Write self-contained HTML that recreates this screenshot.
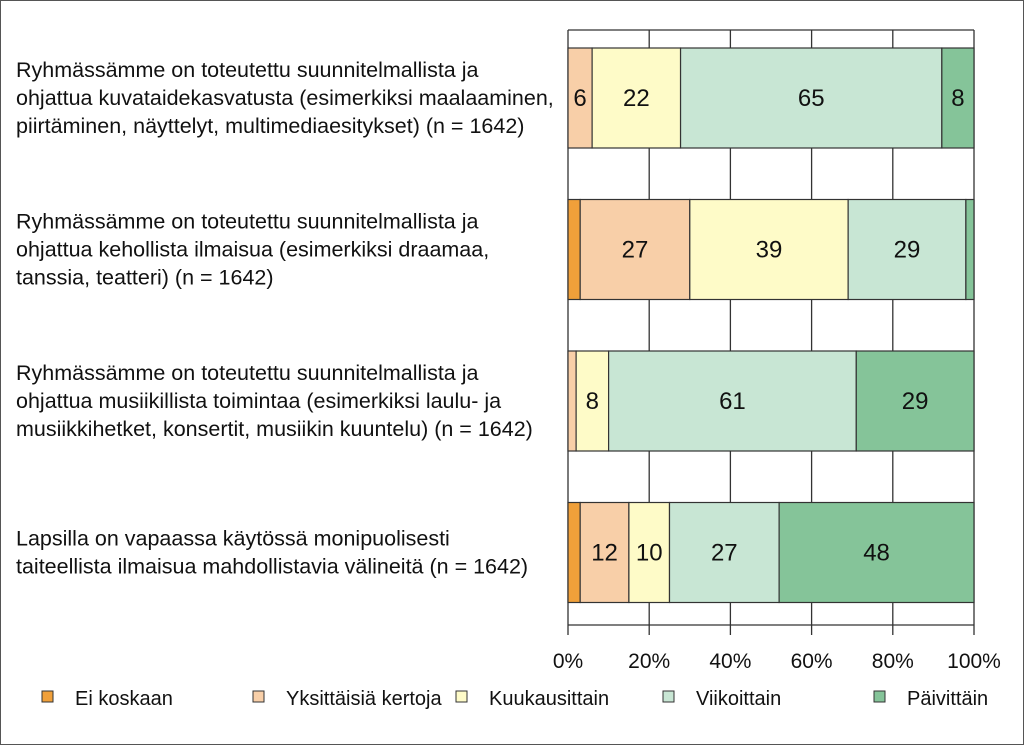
<!DOCTYPE html>
<html><head><meta charset="utf-8"><style>
body{margin:0;background:#fff}
svg{display:block;font-family:"Liberation Sans",Arial,sans-serif}
</style></head><body>
<svg width="1024" height="745" viewBox="0 0 1024 745" id="chart">
<rect x="0.5" y="0.5" width="1023" height="744" fill="#fff" stroke="#555"/>
<g id="grid"></g><g id="bars"></g><g id="labels"></g><g id="axis"></g><g id="legend"></g>
</svg>
<script>
const categories = [
 ["Ryhmässämme on toteutettu suunnitelmallista ja","ohjattua kuvataidekasvatusta (esimerkiksi maalaaminen,","piirtäminen, näyttelyt, multimediaesitykset) (n = 1642)"],
 ["Ryhmässämme on toteutettu suunnitelmallista ja","ohjattua kehollista ilmaisua (esimerkiksi draamaa,","tanssia, teatteri) (n = 1642)"],
 ["Ryhmässämme on toteutettu suunnitelmallista ja","ohjattua musiikillista toimintaa (esimerkiksi laulu- ja","musiikkihetket, konsertit, musiikin kuuntelu) (n = 1642)"],
 ["Lapsilla on vapaassa käytössä monipuolisesti","taiteellista ilmaisua mahdollistavia välineitä (n = 1642)"]
];
const seriesNames = ["Ei koskaan","Yksittäisiä kertoja","Kuukausittain","Viikoittain","Päivittäin"];
const eiKoskaan = [0, 3, 0, 3];
const yksittaisia = [6, 27, 2, 12];
const kuukausittain = [22, 39, 8, 10];
const viikoittain = [65, 29, 61, 27];
const paivittain = [8, 2, 29, 48];
const xTicks = [0, 20, 40, 60, 80, 100];
const xTickLabels = ["0%","20%","40%","60%","80%","100%"];

const colors = ["#f0a03a","#f8cfa8","#fefbc8","#c8e6d4","#85c499"];
const series = [eiKoskaan, yksittaisia, kuukausittain, viikoittain, paivittain];
const NS = "http://www.w3.org/2000/svg";
const X0 = 568, X1 = 974, TOP = 30, BOT = 625, BAND = 151.5, BH = 100, FIRST = 48;
const xs = v => X0 + (X1 - X0) * v / 100;
const yBar = i => FIRST + i * BAND;
function mk(tag, attrs, parent){const e=document.createElementNS(NS,tag);for(const k in attrs)e.setAttribute(k,attrs[k]);parent.appendChild(e);return e;}
const grid = document.getElementById('grid'), bars = document.getElementById('bars'), labels = document.getElementById('labels'), axis = document.getElementById('axis'), legend = document.getElementById('legend');

xTicks.forEach(t => {
  const l = mk('line',{x1:xs(t),x2:xs(t),y1:TOP,y2:BOT+10,stroke:'#333','stroke-width':1.3},grid);
  
  
});
[TOP, BOT].forEach(y => {
  const l = mk('line',{x1:X0,x2:X1,y1:y,y2:y,stroke:'#333','stroke-width':1.3},grid);
  
  
});
xTicks.forEach((t,i) => {
  const tx = mk('text',{x:xs(t),y:668,'text-anchor':'middle','font-size':21,fill:'#111'},axis);
  tx.textContent = xTickLabels[i];
  
  
});

categories.forEach((lines, i) => {
  const y = yBar(i);
  const total = series.reduce((a,s)=>a+s[i],0);
  let acc = 0;
  series.forEach((s, k) => {
    const v = s[i];
    const a = acc*100/total, b = (acc+v)*100/total;
    const r = mk('rect',{x:xs(a),y:y,width:xs(b)-xs(a),height:BH,fill:colors[k],stroke:'#333','stroke-width':1.2},bars);
    
    
    if (v >= 5) {
      const t = mk('text',{x:(xs(a)+xs(b))/2,y:y+BH/2+8,'text-anchor':'middle','font-size':24,fill:'#111'},bars);
      t.textContent = v;
      
      
    }
    acc += v;
  });
  const cy = y + BH/2, lh = 28;
  const start = cy - (lines.length-1)*lh/2 + 7;
  const g = mk('text',{'font-size':21.5,fill:'#111'},labels);
  
  
  lines.forEach((ln, j) => {
    const ts = mk('tspan',{x:16,y:start + j*lh},g);
    ts.textContent = ln;
  });
});

const legX = [42, 253, 456, 663, 874];
seriesNames.forEach((n,k) => {
  const r = mk('rect',{x:legX[k],y:691,width:11,height:11,fill:colors[k],stroke:'#333','stroke-width':1},legend);
  
  
  const t = mk('text',{x:legX[k]+33,y:705,'font-size':20,fill:'#111'},legend);
  t.textContent = n;
  
  
});
</script>
</body></html>
